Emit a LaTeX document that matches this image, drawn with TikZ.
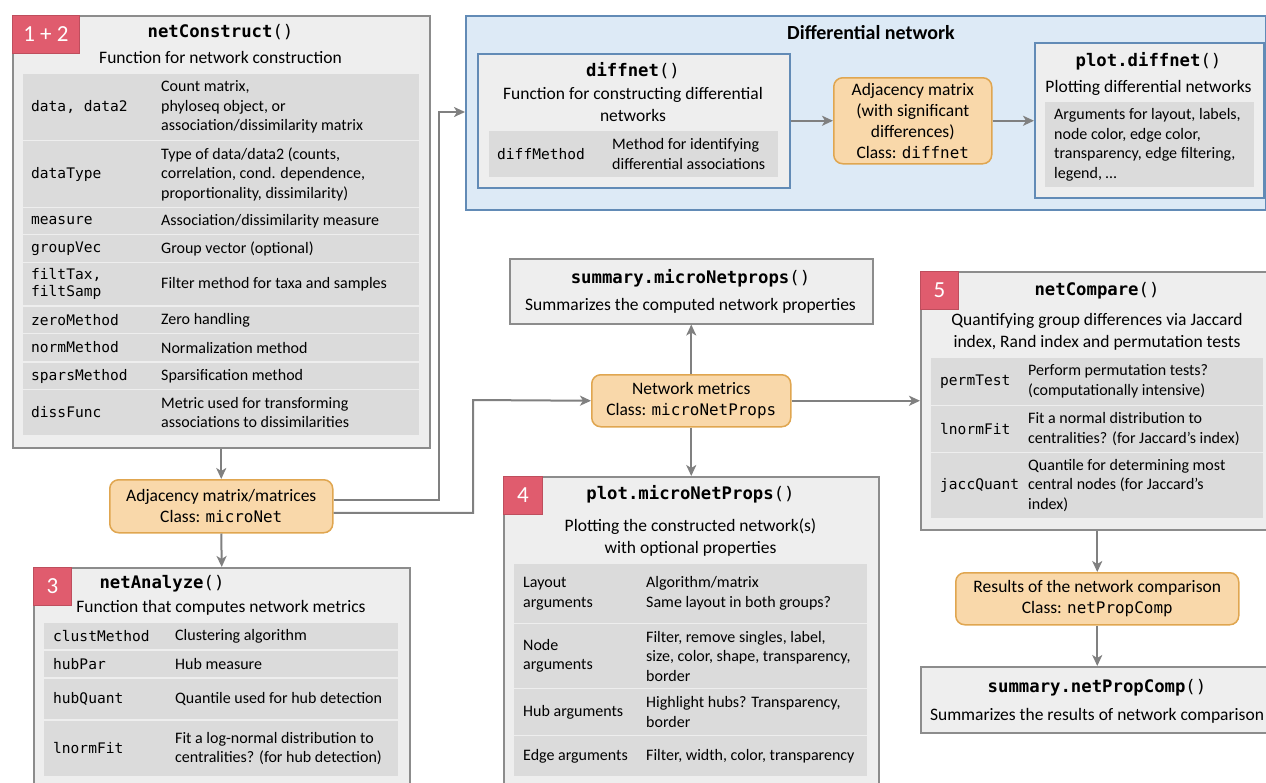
\documentclass[tikz,border=0pt]{standalone}
\usepackage{fontspec}
\setmainfont{Carlito}
\setmonofont{DejaVu Sans Mono}[Scale=0.91]
\usetikzlibrary{arrows.meta}
\definecolor{boxfill}{RGB}{238,238,238}
\definecolor{boxline}{RGB}{140,140,140}
\definecolor{tblfill}{RGB}{219,219,219}
\definecolor{badgered}{RGB}{224,92,110}
\definecolor{orfill}{RGB}{249,216,170}
\definecolor{orline}{RGB}{224,166,80}
\definecolor{bluefill}{RGB}{221,234,246}
\definecolor{blueline}{RGB}{98,139,182}
\definecolor{arrgray}{RGB}{128,128,128}
\tikzset{
  panel/.style={draw=boxline, fill=boxfill, line width=1.5pt, rectangle, inner sep=0pt},
  bluepanel/.style={draw=blueline, fill=boxfill, line width=1.5pt, rectangle, inner sep=0pt},
  bluebg/.style={draw=blueline, fill=bluefill, line width=1.5pt, rectangle, inner sep=0pt},
  badge/.style={draw=badgered!85!black, fill=badgered, line width=0.8pt, rectangle, inner sep=0pt,
    text=white, font=\fontsize{23}{23}\selectfont},
  result/.style={draw=orline, fill=orfill, line width=1.5pt, rounded corners=9pt, inner sep=0pt,
    align=center, font=\fontsize{17.5}{21}\selectfont},
  title/.style={font=\ttfamily\fontsize{19}{22}\selectfont},
  sub/.style={font=\fontsize{17.5}{21.5}\selectfont, align=center},
  difftitle/.style={font=\bfseries\fontsize{20}{24}\selectfont},
  code/.style={font=\ttfamily\fontsize{16}{17.5}\selectfont, align=left, inner sep=0pt},
  desc/.style={font=\fontsize{16}{19.5}\selectfont, align=left, inner sep=0pt},
  arr/.style={draw=arrgray, line width=2pt, -{Stealth[length=11pt,width=10pt,inset=3pt]}},
}
\newcommand\mybox[7]{\node[#2, minimum width={(#5-#3)*1pt}, minimum height={(#6-#4)*1pt}, anchor=north west] (#1) at (#3,#4) {#7};}
\newcommand\mytrow[9]{%
  \fill[tblfill] (#2,#4) rectangle (#3,#5);
  \node[code, anchor=west] (#1a) at (#6,{(#4+#5)/2}) {#7};
  \node[desc, anchor=west] (#1b) at (#8,{(#4+#5)/2}) {#9};}
\newcommand\myprow[9]{%
  \fill[tblfill] (#2,#4) rectangle (#3,#5);
  \node[desc, anchor=west] (#1a) at (#6,{(#4+#5)/2}) {#7};
  \node[desc, anchor=west] (#1b) at (#8,{(#4+#5)/2}) {#9};}
\newcommand\mcode[1]{\texttt{#1}}
\begin{document}
\begin{tikzpicture}[x=1pt,y=-1pt]
\useasboundingbox (0,0) rectangle (1266,782);
\clip (0,0) rectangle (1266,782);
\fill[white] (0,0) rectangle (1266,782);

% ---------- netConstruct ----------
\mybox{nc}{panel}{12}{15}{429}{447}{}
\mybox{b12}{badge}{12}{15}{79}{53}{1 + 2}
\node[title] (nct) at (220.5,32) {\textbf{netConstruct}()};
\node[sub] (ncs) at (220.5,57) {Function for network construction};
\mytrow{ncr1}{23}{419}{74}{140}{31}{data, data2}{161}{Count matrix,\\phyloseq object, or\\association/dissimilarity matrix}
\mytrow{ncr2}{23}{419}{141}{207}{31}{dataType}{161}{Type of data/data2 (counts,\\correlation, cond. dependence,\\proportionality, dissimilarity)}
\mytrow{ncr3}{23}{419}{208}{234}{31}{measure}{161}{Association/dissimilarity measure}
\mytrow{ncr4}{23}{419}{235}{262}{31}{groupVec}{161}{Group vector (optional)}
\mytrow{ncr5}{23}{419}{263}{305}{31}{filtTax,\\filtSamp}{161}{Filter method for taxa and samples}
\mytrow{ncr6}{23}{419}{307}{333}{31}{zeroMethod}{161}{Zero handling}
\mytrow{ncr7}{23}{419}{334}{361}{31}{normMethod}{161}{Normalization method}
\mytrow{ncr8}{23}{419}{363}{389}{31}{sparsMethod}{161}{Sparsification method}
\mytrow{ncr9}{23}{419}{390}{435}{31}{dissFunc}{161}{Metric used for transforming\\associations to dissimilarities}

% ---------- microNet ----------
\mybox{adj}{result}{109}{479}{332}{532}{Adjacency matrix/matrices\\Class: \mcode{microNet}}

% ---------- netAnalyze ----------
\mybox{na}{panel}{33}{567}{409}{800}{}
\mybox{b3}{badge}{33}{567}{71}{605}{3}
\node[title] (nat) at (162,584) {\textbf{netAnalyze}()};
\node[sub] (nas) at (221,608) {Function that computes network metrics};
\mytrow{nar1}{44}{398}{623}{649}{53}{clustMethod}{175}{Clustering algorithm}
\mytrow{nar2}{44}{398}{651}{677}{53}{hubPar}{175}{Hub measure}
\mytrow{nar3}{44}{398}{679}{719}{53}{hubQuant}{175}{Quantile used for hub detection}
\mytrow{nar4}{44}{398}{721}{776}{53}{lnormFit}{175}{Fit a log-normal distribution to\\centralities? (for hub detection)}

% ---------- Differential network ----------
\mybox{dbg}{bluebg}{465}{15}{1265}{209}{}
\node[difftitle] (dbgt) at (871,33) {Differential network};
\mybox{dn}{bluepanel}{477}{53}{789}{187}{}
\node[title] (dnt) at (633,71) {\textbf{diffnet}()};
\node[sub] (dns) at (633,104.5) {Function for constructing differential\\networks};
\mytrow{dnr1}{489}{778}{131}{177}{497}{diffMethod}{612}{Method for identifying\\differential associations}
\mybox{adjd}{result}{833}{77}{991}{163}{Adjacency matrix\\(with significant\\differences)\\Class: \mcode{diffnet}}
\mybox{pd}{bluepanel}{1034}{42}{1263}{197}{}
\node[title] (pdt) at (1148.5,61) {\textbf{plot.diffnet}()};
\node[sub] (pds) at (1148.5,88) {Plotting differential networks};
\fill[tblfill] (1045,102) rectangle (1254,187);
\node[desc, anchor=west] (pdd) at (1054,145) {Arguments for layout, labels,\\node color, edge color,\\transparency, edge filtering,\\legend, …};

% ---------- summary.microNetprops ----------
\mybox{smp}{panel}{509}{258}{872}{323}{}
\node[title] (smpt) at (690.5,278) {\textbf{summary.microNetprops}()};
\node[sub] (smps) at (690.5,306) {Summarizes the computed network properties};

% ---------- Network metrics ----------
\mybox{nm}{result}{591}{374}{790}{426}{Network metrics\\Class: \mcode{microNetProps}}

% ---------- plot.microNetProps ----------
\mybox{pmp}{panel}{503}{476}{878}{800}{}
\mybox{b4}{badge}{503}{476}{542}{514}{4}
\node[title] (pmpt) at (690.5,494) {\textbf{plot.microNetProps}()};
\node[sub] (pmps) at (690.5,537.5) {Plotting the constructed network(s)\\with optional properties};
\myprow{pmr1}{514}{867}{564}{623}{523}{Layout\\arguments}{646}{Algorithm/matrix\\Same layout in both groups?}
\myprow{pmr2}{514}{867}{624}{688}{523}{Node\\arguments}{646}{Filter, remove singles, label,\\size, color, shape, transparency,\\border}
\myprow{pmr3}{514}{867}{689}{735}{523}{Hub arguments}{646}{Highlight hubs? Transparency,\\border}
\myprow{pmr4}{514}{867}{736}{776}{523}{Edge arguments}{646}{Filter, width, color, transparency}

% ---------- netCompare ----------
\mybox{ncp}{panel}{920}{271}{1274}{529}{}
\mybox{b5}{badge}{920}{271}{958}{309}{5}
\node[title] (ncpt) at (1097,291) {\textbf{netCompare}()};
\node[sub] (ncps) at (1097,332) {Quantifying group differences via Jaccard\\index, Rand index and permutation tests};
\mytrow{cpr1}{931}{1263}{358}{405}{940}{permTest}{1028}{Perform permutation tests?\\(computationally intensive)}
\mytrow{cpr2}{931}{1263}{406}{452}{940}{lnormFit}{1028}{Fit a normal distribution to\\centralities? (for Jaccard’s index)}
\mytrow{cpr3}{931}{1263}{453}{518}{940}{jaccQuant}{1028}{Quantile for determining most\\central nodes (for Jaccard’s\\index)}

% ---------- netPropComp ----------
\mybox{res}{result}{955}{572}{1238}{624}{Results of the network comparison\\Class: \mcode{netPropComp}}
\mybox{snp}{panel}{920}{666}{1274}{732}{}
\node[title] (snpt) at (1097,688) {\textbf{summary.netPropComp}()};
\node[sub] (snps) at (1097,716) {Summarizes the results of network comparison};

% ---------- connectors ----------
\coordinate (c1) at (439,112);
\coordinate (c2) at (473,400);
\draw[arr] (nc.south) -- (adj.north);
\draw[arr] (adj.south) -- (na.north);
\draw[arr] ([yshift=6.5pt]adj.east) -| (c1) -- (c1 -| dbg.west);
\draw[arr] ([yshift=-6.5pt]adj.east) -| (c2) -- (nm.west);
\draw[arr] (dn.east) -- (adjd.west);
\draw[arr] (adjd.east) -- (adjd.east -| pd.west);
\draw[arr] (nm.north) -- (smp.south);
\draw[arr] (nm.south) -- (pmp.north);
\draw[arr] (nm.east) -- (nm.east -| ncp.west);
\draw[arr] (ncp.south -| res.north) -- (res.north);
\draw[arr] (res.south) -- (res.south |- snp.north);
\end{tikzpicture}
\end{document}
